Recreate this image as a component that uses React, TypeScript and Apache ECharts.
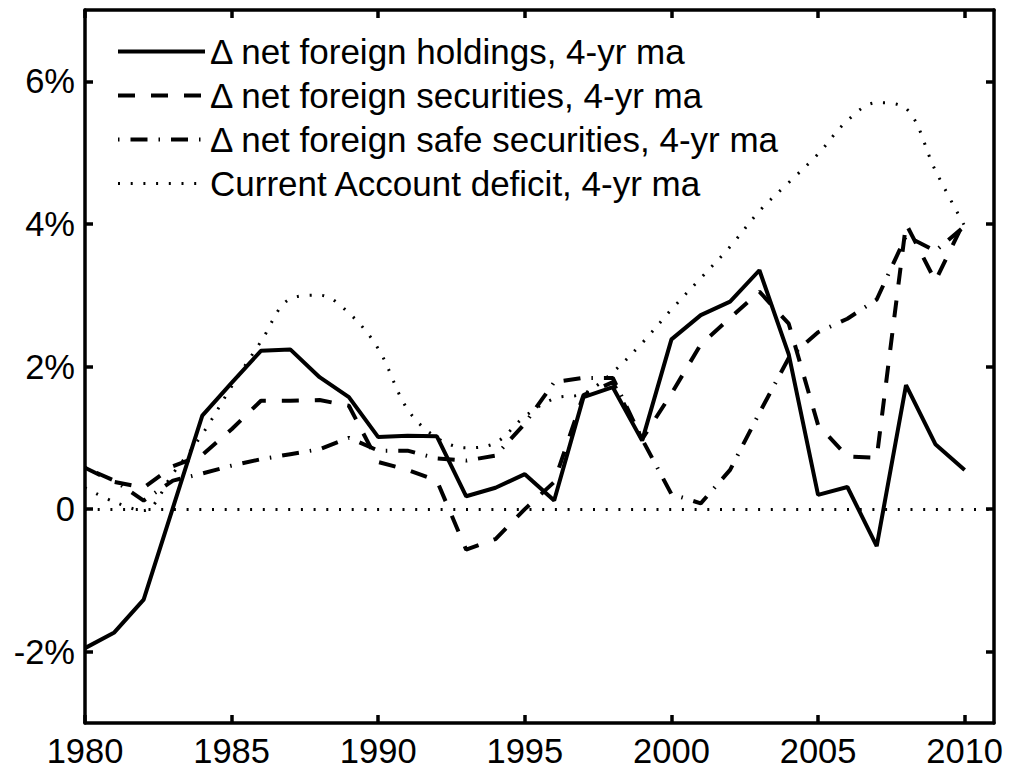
import React, { useEffect, useRef } from "react";
import * as echarts from "echarts";

const years = [1980, 1981, 1982, 1983, 1984, 1985, 1986, 1987, 1988, 1989, 1990, 1991, 1992, 1993, 1994, 1995, 1996, 1997, 1998, 1999, 2000, 2001, 2002, 2003, 2004, 2005, 2006, 2007, 2008, 2009, 2010];

const holdings = [-1.95, -1.73, -1.27, 0.02, 1.31, 1.77, 2.22, 2.24, 1.85, 1.57, 1.01, 1.03, 1.02, 0.18, 0.30, 0.49, 0.12, 1.57, 1.71, 0.96, 2.38, 2.72, 2.91, 3.35, 2.17, 0.20, 0.31, -0.52, 1.74, 0.91, 0.55];
const securities = [0.58, 0.38, 0.30, 0.60, 0.76, 1.12, 1.52, 1.52, 1.53, 1.45, 0.66, 0.55, 0.40, -0.57, -0.42, 0.0, 0.38, 1.60, 1.78, 0.98, 1.62, 2.31, 2.68, 3.05, 2.6, 1.18, 0.74, 0.72, 4.0, 3.2, 4.05];
const safeSecurities = [0.58, 0.40, 0.12, 0.40, 0.50, 0.61, 0.70, 0.77, 0.84, 1.0, 0.82, 0.82, 0.71, 0.68, 0.75, 1.2, 1.78, 1.84, 1.84, 0.98, 0.21, 0.08, 0.55, 1.35, 2.12, 2.48, 2.67, 2.94, 3.83, 3.62, 3.97];
const caDeficit = [0.3, 0.1, -0.02, 0.5, 1.05, 1.72, 2.35, 2.95, 3.0, 2.75, 2.25, 1.4, 1.0, 0.86, 0.93, 1.3, 1.55, 1.62, 1.92, 2.33, 2.8, 3.24, 3.68, 4.18, 4.58, 4.98, 5.45, 5.7, 5.62, 4.75, 3.97];

const seriesNames = [
  "\u0394 net foreign holdings, 4-yr ma",
  "\u0394 net foreign securities, 4-yr ma",
  "\u0394 net foreign safe securities, 4-yr ma",
  "Current Account deficit, 4-yr ma",
];

const xTicks = [1980, 1985, 1990, 1995, 2000, 2005, 2010];
const yTicks = [-2, 0, 2, 4, 6];

const FONT = "'Liberation Sans', Arial, Helvetica, sans-serif";

export default function App() {
  const ref = useRef<HTMLDivElement>(null);
  useEffect(() => {
    if (!ref.current) return;
    const chart = echarts.init(ref.current, null, { renderer: "svg" });
    const pairs = (vals: number[]) => years.map((y, i) => [y, vals[i]]);
    const axisLine = { show: true, onZero: false, lineStyle: { color: "#000", width: 3.5 } };
    const tick = { show: true, inside: true, length: 8, lineStyle: { color: "#000", width: 3.5 }, customValues: xTicks };
    const ytick = { show: true, inside: true, length: 8, lineStyle: { color: "#000", width: 3.5 }, customValues: yTicks };
    const dotted = [2, 10.7];
    chart.setOption({
      animation: false,
      backgroundColor: "#fff",
      grid: { left: 85, right: 15, top: 10, bottom: 47, containLabel: false },
      legend: {
        orient: "vertical",
        left: 111,
        top: 29,
        padding: 5,
        itemWidth: 87,
        itemHeight: 14,
        itemGap: 9,
        selectedMode: false,
        textStyle: { color: "#000", fontSize: 35, lineHeight: 35, fontFamily: FONT },
        lineStyle: { width: "inherit", type: "inherit" },
        itemStyle: { opacity: 0, borderWidth: 0, color: "transparent" },
        data: seriesNames,
      },
      xAxis: [
        {
          type: "value", min: 1980, max: 2011, position: "bottom",
          axisLine, axisTick: tick, splitLine: { show: false },
          axisLabel: { customValues: xTicks, color: "#000", fontSize: 34.5, fontFamily: FONT, margin: 10, formatter: (v: number) => String(v) },
        },
        {
          type: "value", min: 1980, max: 2011, position: "top",
          axisLine, axisTick: tick, splitLine: { show: false }, axisLabel: { show: false },
        },
      ],
      yAxis: [
        {
          type: "value", min: -3, max: 7, position: "left",
          axisLine, axisTick: ytick, splitLine: { show: false },
          axisLabel: { customValues: yTicks, color: "#000", fontSize: 34.5, fontFamily: FONT, margin: 10, formatter: (v: number) => (v === 0 ? "0" : v + "%") },
        },
        {
          type: "value", min: -3, max: 7, position: "right",
          axisLine, axisTick: ytick, splitLine: { show: false }, axisLabel: { show: false },
        },
      ],
      series: [
        {
          name: seriesNames[0], type: "line", symbol: "none", data: pairs(holdings),
          lineStyle: { color: "#000", width: 4, type: "solid" }, itemStyle: { color: "#000" }, z: 5,
        },
        {
          name: seriesNames[1], type: "line", symbol: "none", data: pairs(securities),
          lineStyle: { color: "#000", width: 4, type: [17, 16] }, itemStyle: { color: "#000" }, z: 4,
        },
        {
          name: seriesNames[2], type: "line", symbol: "none", data: pairs(safeSecurities),
          lineStyle: { color: "#000", width: 4, type: [1.5, 11, 17, 11] }, itemStyle: { color: "#000" }, z: 3,
        },
        {
          name: seriesNames[3], type: "line", symbol: "none", data: pairs(caDeficit), smooth: 0.35,
          lineStyle: { color: "#000", width: 3, type: dotted }, itemStyle: { color: "#000" }, z: 2,
          markLine: {
            silent: true, symbol: "none", label: { show: false },
            lineStyle: { color: "#000", width: 3, type: dotted },
            data: [{ yAxis: 0 }],
          },
        },
      ],
    });
    return () => chart.dispose();
  }, []);
  return <div ref={ref} style={{ position: "absolute", left: 0, top: 0, width: 1009, height: 770 }} />;
}
